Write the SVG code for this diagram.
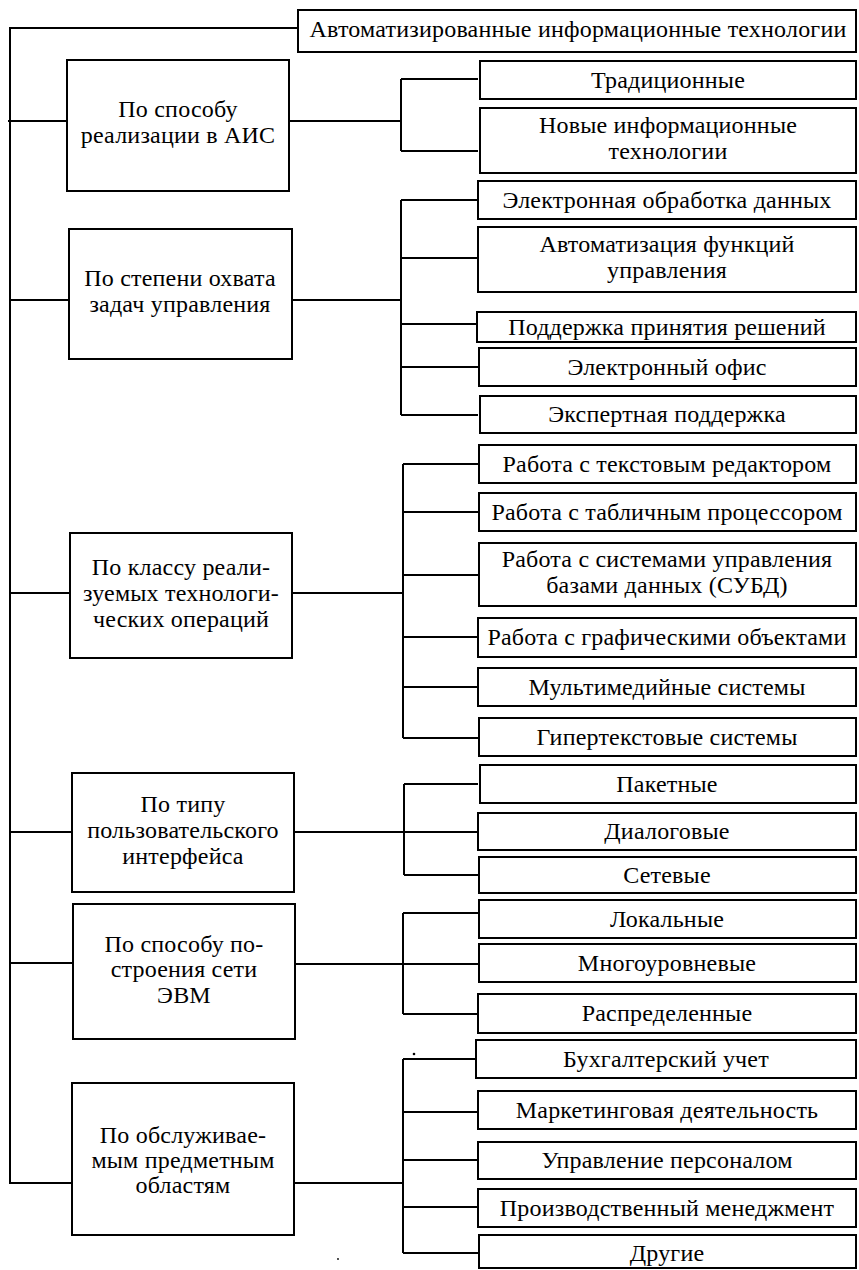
<svg xmlns="http://www.w3.org/2000/svg" width="859" height="1270" viewBox="0 0 859 1270">
<style>
.b{fill:#fff;stroke:#000;stroke-width:2}
.t{font-family:"Liberation Serif","Times New Roman",serif;font-size:24px;fill:#000;text-anchor:middle;letter-spacing:0.2px}
.c{fill:none;stroke:#000;stroke-width:2}
</style>
<rect width="859" height="1270" fill="#fff"/>
<g id="connectors">
<path class="c" d="M298 28H10V1183H72"/>
<path class="c" d="M8 121H67M10 300H69M10 593H70M10 832H72M10 963H73"/>
<path class="c" d="M289 121H401M401 79V151M401 79H478M401 151H478"/>
<path class="c" d="M292 300H401M401 200V415M401 200H478M401 258H478M401 324H478M401 367H478M401 415H478"/>
<path class="c" d="M292 593H403M403 464V738M403 464H478M403 512H478M403 575H478M403 637H478M403 687H478M403 738H478"/>
<path class="c" d="M294 832H478M404 784V875M404 784H478M404 875H478"/>
<path class="c" d="M295 964H479M403 913V1014M403 913H479M403 1014H478"/>
<path class="c" d="M294 1183H403M403 1059V1253M403 1059H477M403 1112H478M403 1160H478M403 1207H478M403 1253H478"/>
<circle cx="414" cy="1054" r="1.3" fill="#000"/>
<circle cx="338" cy="1259" r="0.9" fill="#000"/>
</g>
<g id="root"><rect class="b" x="298" y="10" width="558" height="42"/><text class="t" x="578" y="37">Автоматизированные информационные технологии</text></g>

<g id="l1"><rect class="b" x="67" y="60" width="222" height="131"/><text class="t" x="178" y="117">По способу<tspan x="178" dy="26">реализации в АИС</tspan></text></g>
<g id="l2"><rect class="b" x="69" y="229" width="223" height="130"/><text class="t" x="180" y="286">По степени охвата<tspan x="180" dy="26">задач управления</tspan></text></g>
<g id="l3"><rect class="b" x="70" y="533" width="222" height="125"/><text class="t" x="181" y="575">По классу реали-<tspan x="181" dy="26">зуемых технологи-</tspan><tspan x="181" dy="26">ческих операций</tspan></text></g>
<g id="l4"><rect class="b" x="72" y="773" width="222" height="119"/><text class="t" x="183" y="812">По типу<tspan x="183" dy="26">пользовательского</tspan><tspan x="183" dy="26">интерфейса</tspan></text></g>
<g id="l5"><rect class="b" x="73" y="904" width="222" height="135"/><text class="t" x="184" y="952">По способу по-<tspan x="184" dy="25">строения сети</tspan><tspan x="184" dy="26">ЭВМ</tspan></text></g>
<g id="l6"><rect class="b" x="72" y="1083" width="222" height="152"/><text class="t" x="183" y="1143">По обслуживае-<tspan x="183" dy="25">мым предметным</tspan><tspan x="183" dy="25">областям</tspan></text></g>

<g id="r1a"><rect class="b" x="480" y="61" width="376" height="38"/><text class="t" x="668" y="88">Традиционные</text></g>
<g id="r1b"><rect class="b" x="480" y="108" width="376" height="65"/><text class="t" x="668" y="133">Новые информационные<tspan x="668" dy="26">технологии</tspan></text></g>

<g id="r2a"><rect class="b" x="478" y="181" width="378" height="38"/><text class="t" x="667" y="208">Электронная обработка данных</text></g>
<g id="r2b"><rect class="b" x="478" y="227" width="378" height="65"/><text class="t" x="667" y="252">Автоматизация функций<tspan x="667" dy="26">управления</tspan></text></g>
<g id="r2c"><rect class="b" x="477" y="312" width="379" height="30"/><text class="t" x="667" y="335">Поддержка принятия решений</text></g>
<g id="r2d"><rect class="b" x="479" y="348" width="377" height="38"/><text class="t" x="667" y="375">Электронный офис</text></g>
<g id="r2e"><rect class="b" x="480" y="396" width="376" height="37"/><text class="t" x="667" y="422">Экспертная поддержка</text></g>

<g id="r3a"><rect class="b" x="479" y="445" width="377" height="38"/><text class="t" x="667" y="472">Работа с текстовым редактором</text></g>
<g id="r3b"><rect class="b" x="479" y="493" width="377" height="38"/><text class="t" x="667" y="520">Работа с табличным процессором</text></g>
<g id="r3c"><rect class="b" x="479" y="543" width="377" height="63"/><text class="t" x="667" y="567">Работа с системами управления<tspan x="667" dy="26">базами данных (СУБД)</tspan></text></g>
<g id="r3d"><rect class="b" x="478" y="618" width="378" height="39"/><text class="t" x="667" y="645">Работа с графическими объектами</text></g>
<g id="r3e"><rect class="b" x="478" y="668" width="378" height="38"/><text class="t" x="667" y="695">Мультимедийные системы</text></g>
<g id="r3f"><rect class="b" x="479" y="718" width="377" height="38"/><text class="t" x="667" y="745">Гипертекстовые системы</text></g>

<g id="r4a"><rect class="b" x="480" y="765" width="376" height="38"/><text class="t" x="667" y="792">Пакетные</text></g>
<g id="r4b"><rect class="b" x="478" y="813" width="378" height="37"/><text class="t" x="667" y="839">Диалоговые</text></g>
<g id="r4c"><rect class="b" x="479" y="857" width="377" height="36"/><text class="t" x="667" y="883">Сетевые</text></g>

<g id="r5a"><rect class="b" x="479" y="900" width="377" height="38"/><text class="t" x="667" y="927">Локальные</text></g>
<g id="r5b"><rect class="b" x="479" y="944" width="377" height="38"/><text class="t" x="667" y="971">Многоуровневые</text></g>
<g id="r5c"><rect class="b" x="478" y="994" width="378" height="39"/><text class="t" x="667" y="1021">Распределенные</text></g>

<g id="r6a"><rect class="b" x="476" y="1040" width="380" height="38"/><text class="t" x="666" y="1067">Бухгалтерский учет</text></g>
<g id="r6b"><rect class="b" x="478" y="1091" width="378" height="38"/><text class="t" x="667" y="1118">Маркетинговая деятельность</text></g>
<g id="r6c"><rect class="b" x="478" y="1142" width="378" height="37"/><text class="t" x="667" y="1168">Управление персоналом</text></g>
<g id="r6d"><rect class="b" x="478" y="1189" width="378" height="38"/><text class="t" x="667" y="1216">Производственный менеджмент</text></g>
<g id="r6e"><rect class="b" x="479" y="1235" width="377" height="33"/><text class="t" x="667" y="1261">Другие</text></g>
</svg>
